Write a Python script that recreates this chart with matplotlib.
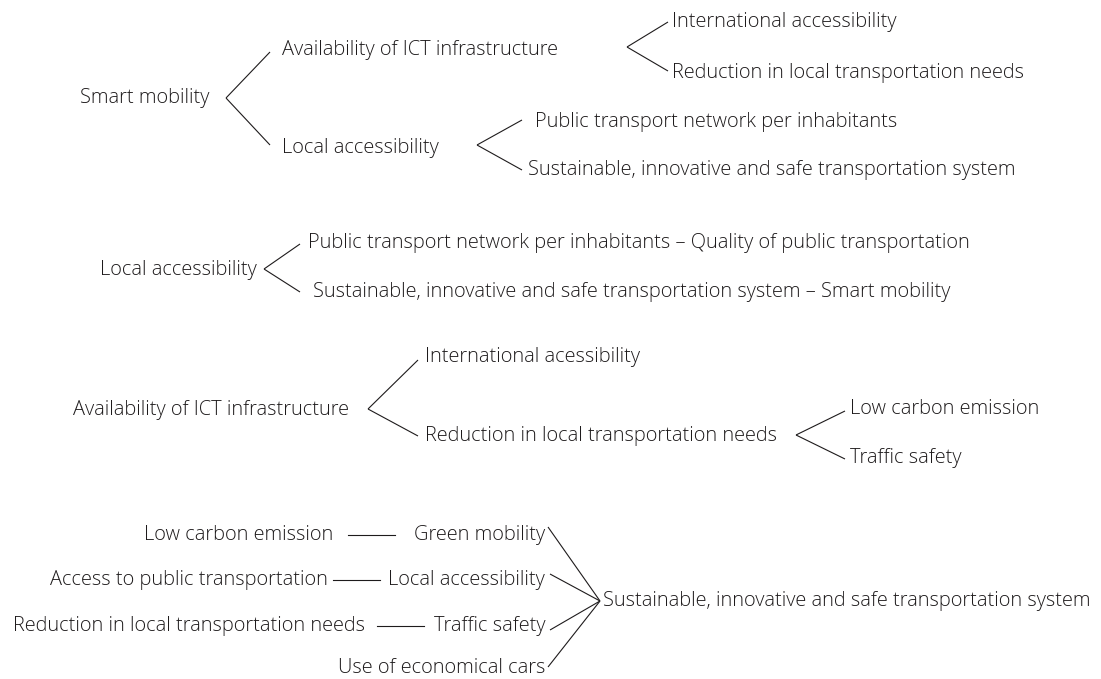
import matplotlib.pyplot as plt

plt.rcParams['font.family'] = ['Open Sans', 'DejaVu Sans']

# tree 1: smart mobility
root1 = 'Smart mobility'
level1 = ['Availability of ICT infrastructure', 'Local accessibility']
ict_children = ['International accessibility', 'Reduction in local transportation needs']
local_children = ['Public transport network per inhabitants',
                  'Sustainable, innovative and safe transportation system']

# tree 2: local accessibility
root2 = 'Local accessibility'
root2_children = ['Public transport network per inhabitants \u2013 Quality of public transportation',
                  'Sustainable, innovative and safe transportation system \u2013 Smart mobility']

# tree 3: ICT infrastructure
root3 = 'Availability of ICT infrastructure'
root3_children = ['International acessibility', 'Reduction in local transportation needs']
reduction_children = ['Low carbon emission', 'Traffic safety']

# tree 4: sustainable system
sources = ['Low carbon emission', 'Access to public transportation',
           'Reduction in local transportation needs', '']
middles = ['Green mobility', 'Local accessibility', 'Traffic safety', 'Use of economical cars']
target = 'Sustainable, innovative and safe transportation system'

TXT = '#1e1b1c'
FS = 14.4
LW = 0.8

fig = plt.figure(figsize=(11.01, 6.79), dpi=100)
ax = fig.add_axes([0, 0, 1, 1])
ax.set_xlim(0, 1101)
ax.set_ylim(679, 0)
ax.axis('off')


def label(x, y, s, ha='left'):
    ax.text(x, y, s, ha=ha, va='center', fontsize=FS, color=TXT,
            fontweight=300)


def fork(apex, ends):
    for e in ends:
        ax.plot([apex[0], e[0]], [apex[1], e[1]], color=TXT, lw=LW,
                solid_capstyle='butt')


# tree 1
label(80, 98, root1)
fork((226, 98), [(270, 52), (270, 145)])
label(282, 50, level1[0])
label(282, 148, level1[1])
fork((627, 47), [(668, 22), (668, 71)])
label(672, 22, ict_children[0])
label(672, 73, ict_children[1])
fork((477, 145), [(522, 120), (522, 170)])
label(535, 122, local_children[0])
label(528, 170, local_children[1])

# tree 2
label(100, 270, root2)
fork((264, 269), [(300, 244), (300, 292)])
label(308, 243, root2_children[0])
label(313, 292, root2_children[1])

# tree 3
label(73, 410, root3)
fork((368, 409), [(418, 360), (418, 436)])
label(425, 357, root3_children[0])
label(425, 436, root3_children[1])
fork((796, 435), [(845, 411), (845, 459)])
label(850, 409, reduction_children[0])
label(850, 458, reduction_children[1])

# tree 4
rows = [535, 580, 626, 668]
src_right = [333, 328, 365, None]
link = [(348, 395), (333, 380), (377, 424), None]
apex = (600, 601)
ends = [(548, 527), (550, 574), (550, 630), (548, 667)]
for i in range(4):
    if sources[i]:
        label(src_right[i], rows[i], sources[i], ha='right')
        ax.plot(link[i], [rows[i], rows[i]], color=TXT, lw=LW)
    label(545, rows[i], middles[i], ha='right')
fork(apex, ends)
label(603, 601, target)

fig.savefig('out.png', dpi=100)
